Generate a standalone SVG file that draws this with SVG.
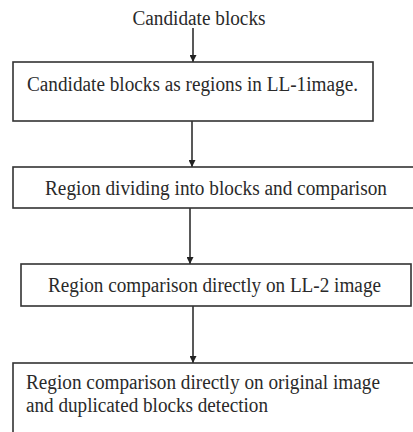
<svg xmlns="http://www.w3.org/2000/svg" width="413" height="432" viewBox="0 0 413 432">
<defs>
<marker id="ah" viewBox="0 0 10 10" refX="10" refY="5" markerWidth="7" markerHeight="7" markerUnits="userSpaceOnUse" orient="auto">
<path d="M0,0 L10,5 L0,10 z" fill="#222"/>
</marker>
</defs>
<style>
.box{fill:#fff;stroke:#333;stroke-width:1.6}
.t{font-family:"Liberation Serif","Times New Roman",serif;font-size:20px;fill:#2a2a2a}
.c{stroke:#222;stroke-width:1.5;fill:none}
</style>
<rect width="413" height="432" fill="#fff"/>
<g id="connectors">
<line class="c" x1="193" y1="28" x2="193" y2="62" marker-end="url(#ah)"/>
<line class="c" x1="192" y1="121" x2="192" y2="167" marker-end="url(#ah)"/>
<line class="c" x1="190" y1="208" x2="190" y2="264" marker-end="url(#ah)"/>
<line class="c" x1="193" y1="306" x2="193" y2="363" marker-end="url(#ah)"/>
</g>
<g id="start">
<text class="t" x="199" y="25" text-anchor="middle" textLength="133" lengthAdjust="spacingAndGlyphs">Candidate blocks</text>
</g>
<g id="box1">
<rect class="box" x="13" y="62" width="360" height="59"/>
<text class="t" x="27" y="91" textLength="331" lengthAdjust="spacingAndGlyphs">Candidate blocks as regions in LL-1image.</text>
</g>
<g id="box2">
<rect class="box" x="13" y="167" width="410" height="41"/>
<text class="t" x="45" y="195" textLength="342" lengthAdjust="spacingAndGlyphs">Region dividing into blocks and comparison</text>
</g>
<g id="box3">
<rect class="box" x="21" y="264" width="390" height="42"/>
<text class="t" x="48" y="292" textLength="333" lengthAdjust="spacingAndGlyphs">Region comparison directly on LL-2 image</text>
</g>
<g id="box4">
<rect class="box" x="13" y="363" width="420" height="90"/>
<text class="t" x="26" y="389" textLength="354" lengthAdjust="spacingAndGlyphs">Region comparison directly on original image</text>
<text class="t" x="26" y="412" textLength="242" lengthAdjust="spacingAndGlyphs">and duplicated blocks detection</text>
</g>
</svg>
